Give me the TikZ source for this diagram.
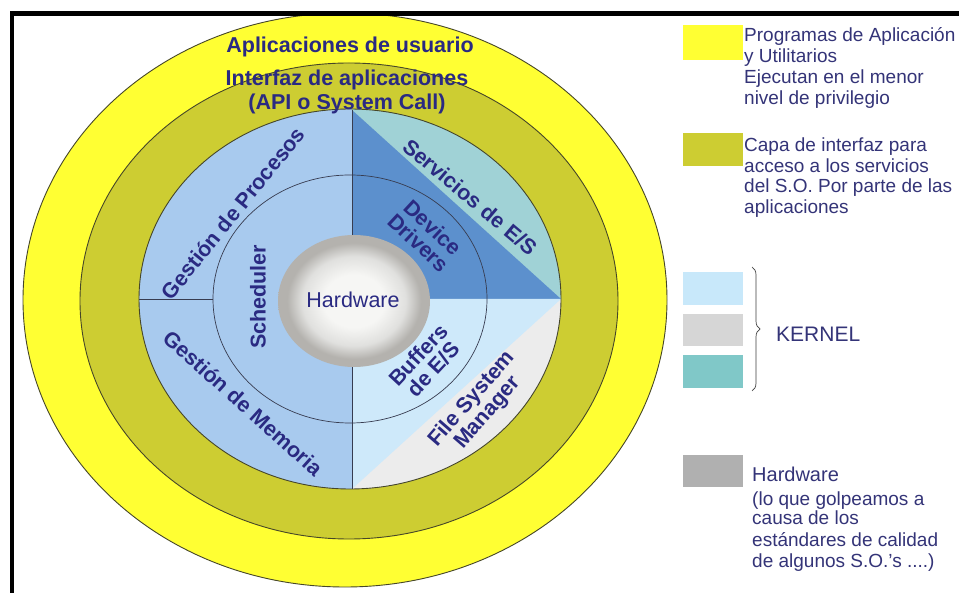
\documentclass[tikz,border=0pt]{standalone}
\usepackage{fontspec}
\setmainfont{Liberation Sans}
\usetikzlibrary{decorations.pathreplacing}

% palette
\definecolor{appyellow}{RGB}{255,255,51}
\definecolor{apiolive}{RGB}{205,205,50}
\definecolor{ringline}{RGB}{70,70,40}
\definecolor{procblue}{RGB}{168,202,238}
\definecolor{drvblue}{RGB}{92,144,205}
\definecolor{servteal}{RGB}{160,210,214}
\definecolor{bufblue}{RGB}{206,233,250}
\definecolor{fsgray}{RGB}{236,236,236}
\definecolor{divline}{RGB}{55,60,80}
\definecolor{labelnavy}{RGB}{42,42,130}
\definecolor{legendnavy}{RGB}{52,52,120}
\definecolor{kblue}{RGB}{200,232,250}
\definecolor{kgray}{RGB}{214,214,214}
\definecolor{kteal}{RGB}{128,200,200}
\definecolor{hwgray}{RGB}{176,176,176}
\definecolor{hwin}{RGB}{246,246,244}
\definecolor{hwmid}{RGB}{224,224,222}
\definecolor{hwedge}{RGB}{180,178,174}

% soft grey sphere for the hardware core
\pgfdeclareradialshading{hwcore}{\pgfpoint{0bp}{0bp}}{%
  color(0bp)=(hwin); color(10bp)=(hwin); color(17bp)=(hwmid);
  color(22bp)=(hwedge); color(25bp)=(hwedge); color(50bp)=(hwedge)}

\tikzset{
  ring/.style={draw=ringline, line width=0.9pt},
  divider/.style={draw=divline, line width=0.8pt},
  layer/.style={font=\bfseries\fontsize{21.5}{24}\selectfont, text=labelnavy,
                inner sep=0pt, align=center},
  legendtxt/.style={font=\fontsize{19}{21}\selectfont, text=legendnavy,
                    inner sep=0pt, anchor=base west},
}

\begin{document}
\begin{tikzpicture}[x=1pt,y=-1pt]
\useasboundingbox (0,0) rectangle (959,593);
\fill[white] (0,0) rectangle (959,593);

% outer rings: applications and API layer
\begin{scope}
  \clip (12,13) rectangle (959,593);
  \filldraw[ring, fill=appyellow] (345,300) ellipse [x radius=322, y radius=287];
  \filldraw[ring, fill=apiolive] (349,301) ellipse [x radius=269, y radius=238];
\end{scope}

% kernel disk and its four sectors
\coordinate (C) at (352,299);
\coordinate (T) at (352,110);
\coordinate (R) at (561,299);
\coordinate (B) at (352,489);
\coordinate (L) at (139,299);
\coordinate (Li) at (213,299);
\begin{scope}
  \clip (350,299) ellipse [x radius=211, y radius=190];
  \fill[procblue] (100,80) rectangle (620,520);
  \fill[servteal] (C) rectangle (620,80);
  \fill[drvblue] (C) -- (T) -- (R) -- cycle;
  \fill[fsgray] (C) rectangle (620,520);
  \fill[bufblue] (C) -- (R) -- (B) -- cycle;
\end{scope}
\draw[ring] (350,299) ellipse [x radius=211, y radius=190];
\draw[divider] (T) -- (B);
\draw[divider] (L) -- (Li);
\draw[divider, line width=0.7pt] (350,299) ellipse [x radius=137, y radius=124];

% hardware core
\shade[shading=hwcore] (354,301) ellipse [x radius=76, y radius=66];

% layer labels
\node[layer] (apps) at (350,47) {Aplicaciones de usuario};
\node[layer] (api) at (347,92) {Interfaz de aplicaciones\\(API o System Call)};
\node[layer, rotate=51] (proc) at (233,213) {Gestión de Procesos};
\node[layer, rotate=-42] (mem) at (243,403) {Gestión de Memoria};
\node[layer, rotate=90] (sched) at (258,297) {Scheduler};
\node[layer, rotate=-40] (serv) at (470,197) {Servicios de E/S};
\node[layer, rotate=-43, font=\bfseries\fontsize{21.5}{21}\selectfont] (drv) at (426,235) {Device\\Drivers};
\node[layer, rotate=47, font=\bfseries\fontsize{21.5}{21}\selectfont] (buf) at (426,362) {Buffers\\de E/S};
\node[layer, rotate=49, font=\bfseries\fontsize{21.5}{21}\selectfont] (fsm) at (480,406) {File System\\Manager};
\node[layer, font=\fontsize{21.5}{24}\selectfont] (hw) at (353,300) {Hardware};

% legend
\fill[appyellow] (683,25) rectangle (743,60);
\node[legendtxt] (l1a) at (744,42) {Programas de Aplicación};
\node[legendtxt] (l1b) at (744,63) {y Utilitarios};
\node[legendtxt] (l1c) at (744,84) {Ejecutan en el menor};
\node[legendtxt] (l1d) at (744,105) {nivel de privilegio};

\fill[apiolive] (683,133) rectangle (743,166);
\node[legendtxt] (l2a) at (744,152) {Capa de interfaz para};
\node[legendtxt] (l2b) at (744,173) {acceso a los servicios};
\node[legendtxt] (l2c) at (744,193) {del S.O. Por parte de las};
\node[legendtxt] (l2d) at (744,214) {aplicaciones};

\fill[kblue] (683,272) rectangle (743,305);
\fill[kgray] (683,314) rectangle (743,346);
\fill[kteal] (683,355) rectangle (743,388);
\coordinate (brtop) at (752,267);
\coordinate (brbot) at (752,391);
\draw[draw=black!75, line width=0.7pt, decorate, decoration={brace, amplitude=8pt}] (brtop) -- (brbot);
\node[legendtxt, font=\fontsize{21}{24}\selectfont] (kern) at (776,342) {KERNEL};

\fill[hwgray] (683,455) rectangle (743,487);
\node[legendtxt, font=\fontsize{20}{22}\selectfont] (l4a) at (752,482) {Hardware};
\node[legendtxt] (l4b) at (752,505) {(lo que golpeamos a};
\node[legendtxt] (l4c) at (752,525) {causa de los};
\node[legendtxt] (l4d) at (752,546) {estándares de calidad};
\node[legendtxt] (l4e) at (752,567) {de algunos S.O.'s ....)};

% frame
\draw[line width=4.5pt] (962,13.5) -- (12,13.5) -- (12,596);
\end{tikzpicture}
\end{document}
